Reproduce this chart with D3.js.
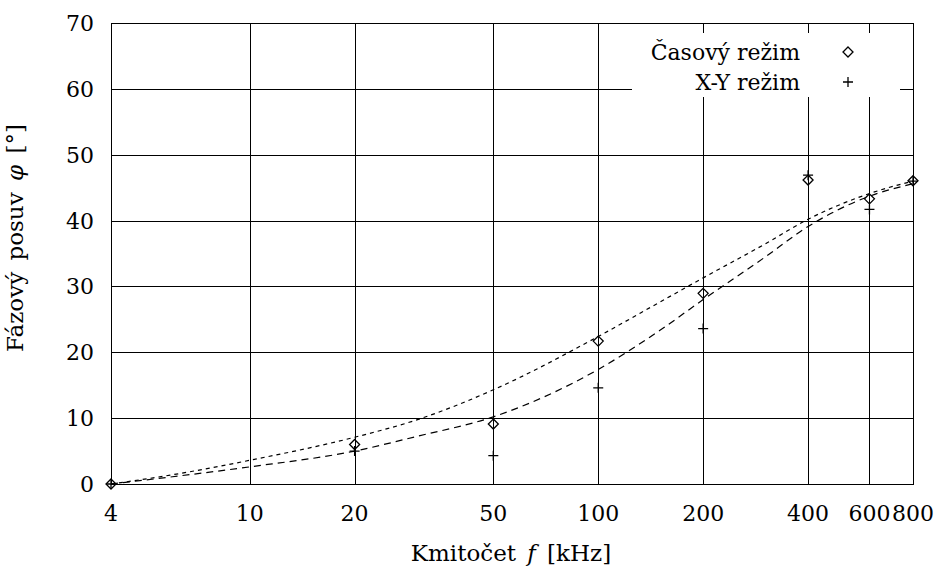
<!DOCTYPE html>
<html lang="cs">
<head>
<meta charset="UTF-8" />
<title>Fázový posuv vs. kmitočet</title>
<script src="https://d3js.org/d3.v7.min.js"></script>
<style>
  body { margin: 0; background: #fff; }
  svg { display: block; font-family: "DejaVu Serif", serif; }
  .tick-label { font-size: 22px; fill: #000; }
  .axis-title { font-size: 23px; fill: #000; word-spacing: 4px; }
  .grid line, .ticks line { stroke: #000; stroke-width: 1; shape-rendering: crispEdges; }
</style>
</head>
<body>
<div id="chart"></div>
<script>
// measured points
const freq = [4, 20, 50, 100, 200, 400, 600, 800];
const casovy = [0, 6.0, 9.1, 21.7, 28.95, 46.15, 43.3, 46.05];
const xyRezim = [0, 5.0, 4.3, 14.6, 23.6, 46.9, 41.7, 46.0];

// fitted curves
const fitFreq = [4, 6, 10, 20, 30, 50, 100, 150, 200, 300, 400, 600, 800];
const fitCasovy = [0, 1.4, 3.6, 7.1, 9.7, 14.3, 22.4, 27.6, 31.3, 36.4, 40.2, 44.1, 46.0];
const fitXY = [0, 1.1, 2.6, 5.0, 7.2, 10.2, 17.4, 23.3, 28.0, 34.4, 39.1, 43.7, 45.6];

const xTicks = [4, 10, 20, 50, 100, 200, 400, 600, 800];
const yTicks = [0, 10, 20, 30, 40, 50, 60, 70];
const seriesNames = ["Časový režim", "X-Y režim"];

const width = 935, height = 568;
const pLeft = 111, pRight = 913, pTop = 23, pBottom = 484;

const svg = d3.select("#chart").append("svg")
  .attr("width", width)
  .attr("height", height);

const x = d3.scaleLog().domain([4, 800]).range([pLeft, pRight]);
const y = d3.scaleLinear().domain([0, 70]).range([pBottom, pTop]);
const px = v => Math.round(v) + 0.5;

// grid
const grid = svg.append("g").attr("class", "grid");
grid.selectAll(".gx")
  .data(xTicks.slice(1, -1))
  .enter().append("line")
  .attr("x1", d => px(x(d))).attr("x2", d => px(x(d)))
  .attr("y1", pTop).attr("y2", pBottom);
grid.selectAll(".gy")
  .data(yTicks.slice(1, -1))
  .enter().append("line")
  .attr("x1", pLeft).attr("x2", pRight)
  .attr("y1", d => px(y(d))).attr("y2", d => px(y(d)));

// legend background hides the grid
const keyX0 = 632, keyX1 = 900, keyY0 = 33, keyY1 = 97;
svg.append("rect")
  .attr("x", keyX0).attr("y", keyY0)
  .attr("width", keyX1 - keyX0).attr("height", keyY1 - keyY0)
  .attr("fill", "#fff");

// ticks on all four sides, pointing inwards
const tl = 10;
const ticks = svg.append("g").attr("class", "ticks");
xTicks.forEach(d => {
  const xx = px(x(d));
  ticks.append("line").attr("x1", xx).attr("x2", xx).attr("y1", pBottom).attr("y2", pBottom - tl);
  ticks.append("line").attr("x1", xx).attr("x2", xx).attr("y1", pTop).attr("y2", pTop + tl);
});
yTicks.forEach(d => {
  const yy = px(y(d));
  ticks.append("line").attr("x1", pLeft).attr("x2", pLeft + tl).attr("y1", yy).attr("y2", yy);
  ticks.append("line").attr("x1", pRight).attr("x2", pRight - tl).attr("y1", yy).attr("y2", yy);
});

// border
svg.append("rect")
  .attr("x", px(pLeft)).attr("y", px(pTop))
  .attr("width", Math.round(pRight) - Math.round(pLeft))
  .attr("height", Math.round(pBottom) - Math.round(pTop))
  .attr("fill", "none").attr("stroke", "#000").attr("stroke-width", 1)
  .attr("shape-rendering", "crispEdges");

// tick labels
svg.selectAll(".xl")
  .data(xTicks)
  .enter().append("text")
  .attr("class", "tick-label")
  .attr("x", d => x(d))
  .attr("y", 521)
  .attr("text-anchor", "middle")
  .text(d => d);
svg.selectAll(".yl")
  .data(yTicks)
  .enter().append("text")
  .attr("class", "tick-label")
  .attr("x", 94)
  .attr("y", d => y(d) + 8)
  .attr("text-anchor", "end")
  .text(d => d);

// axis titles
const xt = svg.append("text")
  .attr("class", "axis-title")
  .attr("x", 511).attr("y", 561)
  .attr("text-anchor", "middle");
xt.append("tspan").text("Kmitočet ");
xt.append("tspan").attr("font-style", "italic").text("f");
xt.append("tspan").text(" [kHz]");

const yt = svg.append("text")
  .attr("class", "axis-title")
  .attr("transform", "translate(23,238) rotate(-90)")
  .attr("text-anchor", "middle");
yt.append("tspan").text("Fázový posuv ");
yt.append("tspan").attr("font-style", "italic").text("φ");
yt.append("tspan").text(" [°]");

// fitted curves
const line = d3.line()
  .x(d => x(d[0]))
  .y(d => y(d[1]))
  .curve(d3.curveMonotoneX);

svg.append("path")
  .datum(fitFreq.map((f, i) => [f, fitCasovy[i]]))
  .attr("d", line)
  .attr("fill", "none").attr("stroke", "#000").attr("stroke-width", 1.2)
  .attr("stroke-dasharray", "4,4");

svg.append("path")
  .datum(fitFreq.map((f, i) => [f, fitXY[i]]))
  .attr("d", line)
  .attr("fill", "none").attr("stroke", "#000").attr("stroke-width", 1.2)
  .attr("stroke-dasharray", "7,5");

// markers
const ms = 5;
function diamond(g, cx, cy) {
  g.append("path")
    .attr("d", `M${cx},${cy - ms}L${cx + ms},${cy}L${cx},${cy + ms}L${cx - ms},${cy}Z`)
    .attr("fill", "none").attr("stroke", "#000").attr("stroke-width", 1.3);
}
function plus(g, cx, cy) {
  g.append("path")
    .attr("d", `M${cx - ms},${cy}H${cx + ms}M${cx},${cy - ms}V${cy + ms}`)
    .attr("fill", "none").attr("stroke", "#000").attr("stroke-width", 1.3);
}

const pts = svg.append("g");
freq.forEach((f, i) => {
  diamond(pts, x(f), y(casovy[i]));
  plus(pts, x(f), y(xyRezim[i]));
});

// legend
const key = svg.append("g");
key.append("text").attr("class", "tick-label")
  .attr("x", 800).attr("y", 60).attr("text-anchor", "end").text(seriesNames[0]);
key.append("text").attr("class", "tick-label")
  .attr("x", 800).attr("y", 90).attr("text-anchor", "end").text(seriesNames[1]);
diamond(key, 848, 52);
plus(key, 848, 82);
</script>
</body>
</html>
